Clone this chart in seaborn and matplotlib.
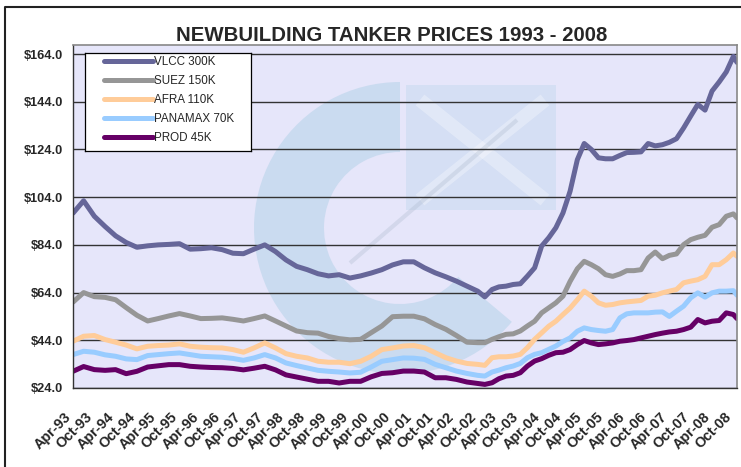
import pandas as pd
import matplotlib.pyplot as plt
from matplotlib.patches import Rectangle, Wedge
from matplotlib.ticker import FuncFormatter
from matplotlib.transforms import ScaledTranslation
import seaborn as sns

# sample months counted from Apr-93 (quarterly early on, every 2 months later)
month_offsets = list(range(0, 112, 3)) + list(range(114, 187, 2)) + [187]

vlcc = [97.3, 102.5, 96, 91.7, 87.8, 85, 83, 83.6, 84, 84.2, 84.5, 82.2, 82.4, 82.8, 82, 80.5,
        80.3, 82.2, 84, 81.2, 77.7, 75, 73.6, 71.9, 71, 71.5, 70.1, 71, 72.2, 73.6, 75.6, 76.9,
        76.9, 74.4, 72.3, 70.6, 68.8, 66.7,
        64.6, 62.2, 65.3, 66.4, 66.7, 67.4, 67.7, 70.9, 74.4, 83.5, 87, 91.2, 97.4, 106.5, 119.7,
        126.5, 124, 120.5, 120.1, 120.1, 121.5, 122.7, 122.8, 123, 126.5, 125.5, 126, 127, 128.5,
        133, 138, 142.9, 140.5, 148.5, 152.3, 156.5, 163, 160.5]
suez = [60, 64, 62.3, 62, 61, 57.7, 54.5, 52.1, 53.1, 54.2, 55.2, 54.2, 53.1, 53.2, 53.4, 52.8,
        52.1, 53.1, 54.2, 52.1, 50, 47.9, 47.2, 47, 45.6, 44.7, 44.2, 44.4, 47.2, 50, 53.9, 54.1,
        54.1, 53, 50.6, 48.6, 46, 43.2,
        43, 43, 44.4, 45.5, 46.5, 46.7, 47.9, 50, 52, 55.5, 57.6, 59.7, 62.5, 68.7, 74,
        77.1, 75.7, 74, 71.5, 70.8, 71.8, 73.2, 73.2, 73.6, 78.5, 81, 78.2, 79.6, 80.2,
        84.1, 86.2, 87.2, 88, 91.4, 92.5, 96, 97, 95.3]
afra = [43.6, 45.7, 46, 44.3, 43.2, 42, 40.4, 41.5, 41.8, 42, 42.5, 41.5, 41.1, 40.9, 40.8, 40.1,
        39, 40.8, 42.9, 40.8, 38.4, 37.3, 36.6, 35.2, 34.8, 34.8, 34.2, 35.2, 37.3, 40.1, 40.8, 41.6,
        41.8, 40.9, 38.8, 36.7, 35.3, 34.3,
        33.9, 33.5, 36.7, 37.1, 37.1, 37.4, 38.1, 40.9, 44.4, 47.1, 49.9, 52, 54.8, 57.5, 61,
        64.6, 62.5, 59.7, 58.7, 59, 59.7, 60.1, 60.4, 60.7, 62.5, 62.9, 63.9, 64.6, 65.3,
        68.1, 68.8, 69.4, 70.8, 75.7, 75.7, 77.8, 80.6, 79.2]
panamax = [38, 39.4, 39, 37.9, 37.3, 36.2, 35.9, 37.6, 38, 38.4, 38.7, 38, 37.3, 37.1, 36.9, 36.4,
           35.6, 36.6, 38, 36.6, 34.5, 33.4, 32.4, 31.4, 31, 30.7, 30.3, 30.6, 32.8, 35.2, 35.9, 36.6,
           36.5, 36, 33.9, 32.5, 31.1, 30.1,
           29.3, 29, 30.7, 31.5, 32.5, 33.2, 34.3, 36.7, 38.1, 38.8, 40.2, 41.6, 43.5, 45, 47.8,
           49.2, 48.5, 48.1, 47.8, 48.5, 53.4, 55.1, 55.5, 55.5, 55.5, 55.8, 55.9, 54, 56.2,
           58.3, 61.8, 63.9, 62.1, 63.9, 64.6, 64.6, 64.8, 62.9]
prod = [31, 33, 31.7, 31.4, 31.7, 30, 31, 32.8, 33.3, 33.8, 33.8, 33.1, 32.8, 32.6, 32.5, 32.2,
        31.6, 32.3, 33.1, 31.6, 29.5, 28.6, 27.7, 26.8, 26.8, 26.1, 26.8, 26.8, 28.7, 30.1, 30.4, 31.1,
        31.1, 30.7, 28.3, 28.3, 27.6, 26.5,
        25.9, 25.5, 26.2, 27.9, 29, 29.3, 30.4, 33.2, 35.3, 36.3, 37.7, 38.8, 39, 40.1, 42.2,
        43.9, 42.9, 42.2, 42.5, 42.9, 43.6, 43.9, 44.3, 45, 45.7, 46.4, 47, 47.5, 47.8,
        48.5, 49.5, 52.7, 51.3, 52, 52.3, 55.5, 54.8, 53.1]

series_names = ["VLCC 300K", "SUEZ 150K", "AFRA 110K", "PANAMAX 70K", "PROD 45K"]
series_colors = ["#666699", "#969696", "#FFCC99", "#99CCFF", "#660066"]
y_ticks = [24, 44, 64, 84, 104, 124, 144, 164]

start = pd.Timestamp("1993-04-01")
dates = [start + pd.DateOffset(months=m) for m in month_offsets]

frames = []
for name, vals in zip(series_names, [vlcc, suez, afra, panamax, prod]):
    frames.append(pd.DataFrame({"Date": dates, "Price": vals, "Series": name}))
df = pd.concat(frames, ignore_index=True)

sns.set_style("white")
plt.rcParams["font.family"] = ["Liberation Sans", "DejaVu Sans"]

fig = plt.figure(figsize=(7.41, 4.67), dpi=100)

# background layer in pixel coordinates: plot area fill, faint logo, outer frame
bg = fig.add_axes([0, 0, 1, 1], zorder=0)
bg.set_xlim(0, 741)
bg.set_ylim(467, 0)
bg.axis("off")
bg.add_patch(Rectangle((73, 45), 664, 343, facecolor="#E6E6FA", edgecolor="none"))
bg.add_patch(Wedge((400, 228), 146, 40, 270, width=70, facecolor="#B4D2E8", alpha=0.55,
                   edgecolor="none"))
bg.add_patch(Rectangle((406, 85), 150, 125, facecolor="#BCD5EB", alpha=0.4, edgecolor="none"))
bg.plot([420, 545], [100, 200], color="white", lw=10, alpha=0.3, solid_capstyle="butt")
bg.plot([420, 545], [200, 100], color="white", lw=10, alpha=0.3, solid_capstyle="butt")
bg.plot([350, 517], [263, 120], color="#A8B6CA", lw=3, alpha=0.3, solid_capstyle="butt")
bg.plot([5, 5, 741], [467, 7, 7], color="#222222", lw=1.5)

ax = fig.add_axes([73 / 741, 1 - 388 / 467, 664 / 741, 343 / 467], zorder=1)
ax.set_facecolor("none")

sns.lineplot(data=df, x="Date", y="Price", hue="Series", hue_order=series_names,
             palette=dict(zip(series_names, series_colors)), linewidth=3.6, sort=False, ax=ax)
for line in ax.get_lines():
    line.set_solid_joinstyle("round")
    line.set_solid_capstyle("round")

ax.tick_params(axis="both", direction="out", length=4, width=1, color="#333333", pad=3)
ax.set_ylim(24, 167.8)
ax.set_yticks(y_ticks)
ax.yaxis.set_major_formatter(FuncFormatter(lambda v, p: f"${v:.1f}"))
ax.yaxis.grid(True, color="#333333", lw=1)
ax.set_axisbelow(True)

xticks = [start + pd.DateOffset(months=6 * k) for k in range(32)]
ax.set_xlim(start, start + pd.DateOffset(months=187))
ax.set_xticks(xticks)
ax.set_xticklabels([d.strftime("%b-%y") for d in xticks], rotation=45, ha="right", va="top",
                   rotation_mode="anchor", fontsize=10.4, fontweight="bold")
for lab in ax.get_yticklabels():
    lab.set_fontsize(9.2)
    lab.set_fontweight("bold")
ax.set_xlabel("")
ax.set_ylabel("")

for side in ["left", "bottom"]:
    ax.spines[side].set_color("#333333")
    ax.spines[side].set_linewidth(1)
for side in ["top", "right"]:
    ax.spines[side].set_color("#888888")
    ax.spines[side].set_linewidth(1.2)

# legend box drawn as its own small axes so it sits above the grid lines
handles, labels = ax.get_legend_handles_labels()
ax.get_legend().remove()
lax = fig.add_axes([85 / 741, 1 - 151 / 467, 166 / 741, 98 / 467], zorder=2)
lax.set_facecolor("white")
lax.set_xticks([])
lax.set_yticks([])
for sp in lax.spines.values():
    sp.set_color("black")
    sp.set_linewidth(0.9)
leg = lax.legend(handles, labels, loc="upper left", bbox_to_anchor=(104 / 741, 1 - 56 / 467),
                 bbox_transform=fig.transFigure, fontsize=8.4, frameon=False,
                 handlelength=4.2, handletextpad=0.05, labelspacing=0.6, borderpad=0,
                 borderaxespad=0)
for h in leg.get_lines():
    h.set_linewidth(3.6)
    h.set_solid_capstyle("round")

fig.text(391.5 / 741, 1 - 35.5 / 467, "NEWBUILDING TANKER PRICES 1993 - 2008", ha="center",
         va="center", fontsize=14.7, fontweight="bold")

# nudge the rotated date labels left and down, as in the original
fig.canvas.draw()
shift = ScaledTranslation(-0.09, -0.12, fig.dpi_scale_trans)
for lab in ax.get_xticklabels():
    lab.set_transform(lab.get_transform() + shift)

fig.savefig("out.png", dpi=100)
